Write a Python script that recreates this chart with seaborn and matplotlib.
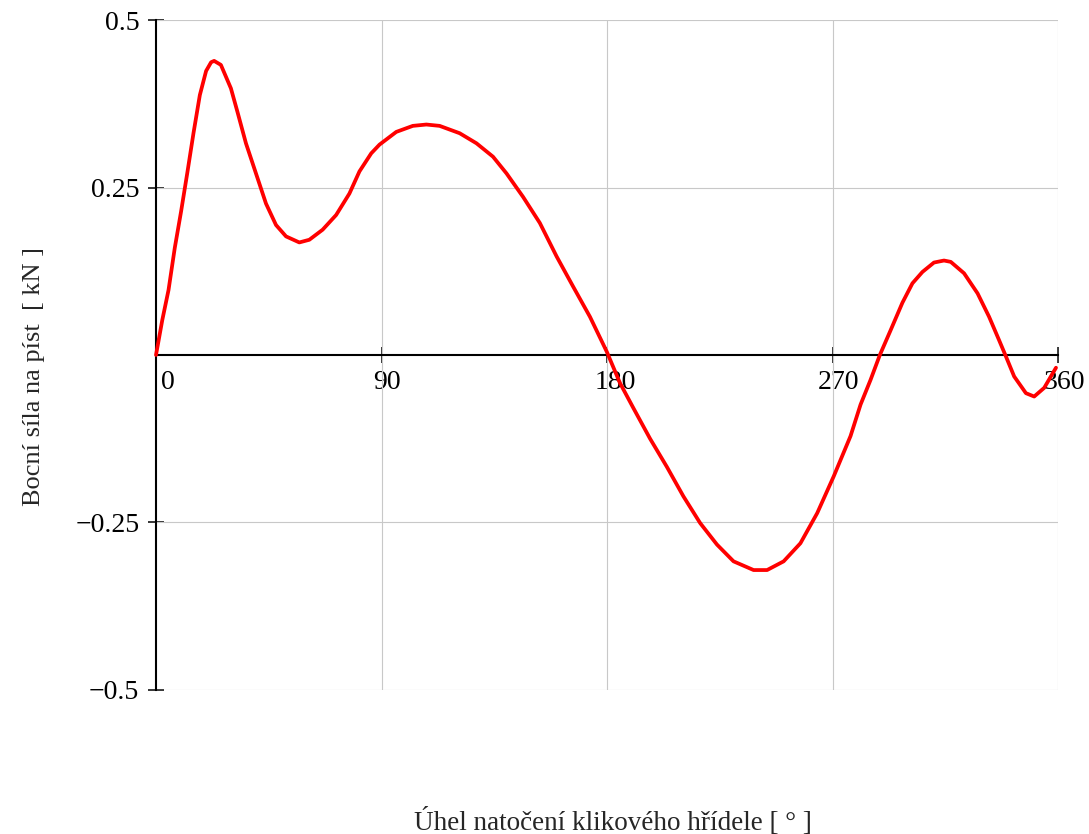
import matplotlib
matplotlib.use("Agg")
import matplotlib.pyplot as plt
import matplotlib.transforms as mtransforms
import seaborn as sns
import pandas as pd

# Crank angle [deg] and piston side force [kN]
angle = [0, 2.5, 5.0, 7.5, 10.0, 12.5, 15.0, 17.5, 20.0, 22.0, 23.2, 25.9,
         29.9, 32.5, 35.9, 39.9, 43.9, 47.9, 51.9, 57.2, 61.2, 66.5, 71.9,
         77.2, 81.2, 85.9, 89.2, 95.9, 102.5, 107.9, 113.2, 121.2, 127.9,
         134.5, 139.9, 146.5, 153.2, 159.9, 166.5, 173.2, 179.9, 185.2,
         190.5, 197.2, 203.9, 210.5, 217.2, 223.9, 230.5, 238.5, 243.9,
         250.5, 257.2, 263.9, 270.5, 277.2, 281.2, 285.2, 288.9, 293.2,
         297.9, 301.9, 305.9, 310.5, 314.5, 317.2, 322.5, 327.9, 332.5,
         336.5, 339.2, 342.5, 347.2, 350.5, 354.5, 359.2]
force = [0.0, 0.052, 0.097, 0.160, 0.214, 0.272, 0.332, 0.388, 0.424, 0.437,
         0.439, 0.433, 0.398, 0.363, 0.316, 0.271, 0.226, 0.194, 0.177,
         0.168, 0.172, 0.187, 0.209, 0.241, 0.274, 0.301, 0.314, 0.333, 0.342,
         0.344, 0.342, 0.331, 0.316, 0.296, 0.271, 0.236, 0.197, 0.147, 0.102,
         0.057, 0.005, -0.042, -0.079, -0.125, -0.167, -0.211, -0.251, -0.283,
         -0.308, -0.321, -0.321, -0.308, -0.281, -0.236, -0.181, -0.121,
         -0.074, -0.037, 0.0, 0.037, 0.078, 0.107, 0.124, 0.138, 0.141, 0.139,
         0.122, 0.092, 0.057, 0.022, -0.002, -0.032, -0.057, -0.062, -0.049,
         -0.019]

x_ticks = [0, 90, 180, 270, 360]
x_tick_labels = ["0", "90", "180", "270", "360"]
y_ticks = [-0.5, -0.25, 0.25, 0.5]
y_tick_labels = ["\u22120.5", "\u22120.25", "0.25", "0.5"]

x_label = "Úhel natočení klikového hřídele [ ° ]"
y_label = "Bocní síla na píst  [ kN ]"

df = pd.DataFrame({"angle": angle, "force": force})

sns.set_theme(style="white")
plt.rcParams["font.family"] = ["Liberation Serif", "DejaVu Serif"]

fig = plt.figure(figsize=(10.89, 8.34), dpi=100)
ax = fig.add_axes([156 / 1089, 0.1727, 902 / 1089, 0.8033])

sns.lineplot(data=df, x="angle", y="force", ax=ax, color="#ff0000",
             linewidth=2.7, estimator=None, sort=False, zorder=3, clip_on=False)

ax.set_xlim(0, 360)
ax.set_ylim(-0.5, 0.5)

# grid lines
for gx in x_ticks[1:]:
    ax.axvline(gx, color="#c8c8c8", linewidth=0.8, zorder=1)
for gy in y_ticks:
    ax.axhline(gy, color="#c8c8c8", linewidth=0.8, zorder=1)

# axes crossing at the origin
for side in ("top", "right"):
    ax.spines[side].set_visible(False)
ax.spines["left"].set_position(("data", 0))
ax.spines["bottom"].set_position(("data", 0))
for side in ("left", "bottom"):
    ax.spines[side].set_color("black")
    ax.spines[side].set_linewidth(1.5)
    ax.spines[side].set_zorder(2.5)

ax.set_xticks(x_ticks)
ax.set_xticklabels(x_tick_labels)
ax.set_yticks(y_ticks)
ax.set_yticklabels(y_tick_labels)

ax.tick_params(axis="x", direction="inout", length=11, width=1.1, color="black",
               labelsize=20, pad=5.0, bottom=True, labelcolor="black")
ax.tick_params(axis="y", direction="inout", length=11, width=1.1, color="black",
               labelsize=20, pad=6.5, left=True, labelcolor="black")

# x tick labels sit a little right of their ticks; "0" further, clear of the axis
shifts = [12, 5, 8, 6, 6]
for lbl, dx in zip(ax.get_xticklabels(), shifts):
    off = mtransforms.ScaledTranslation(dx / 100, 0, fig.dpi_scale_trans)
    lbl.set_transform(lbl.get_transform() + off)

ax.set_xlabel("")
ax.set_ylabel("")
fig.text(0.563, 0.0145, x_label, ha="center", va="center", fontsize=19.5)
fig.text(0.031, 0.548, y_label, ha="center", va="center", fontsize=19,
         rotation=90)

ax.set_facecolor("white")
fig.patch.set_facecolor("white")

fig.savefig("out.png", dpi=100)
